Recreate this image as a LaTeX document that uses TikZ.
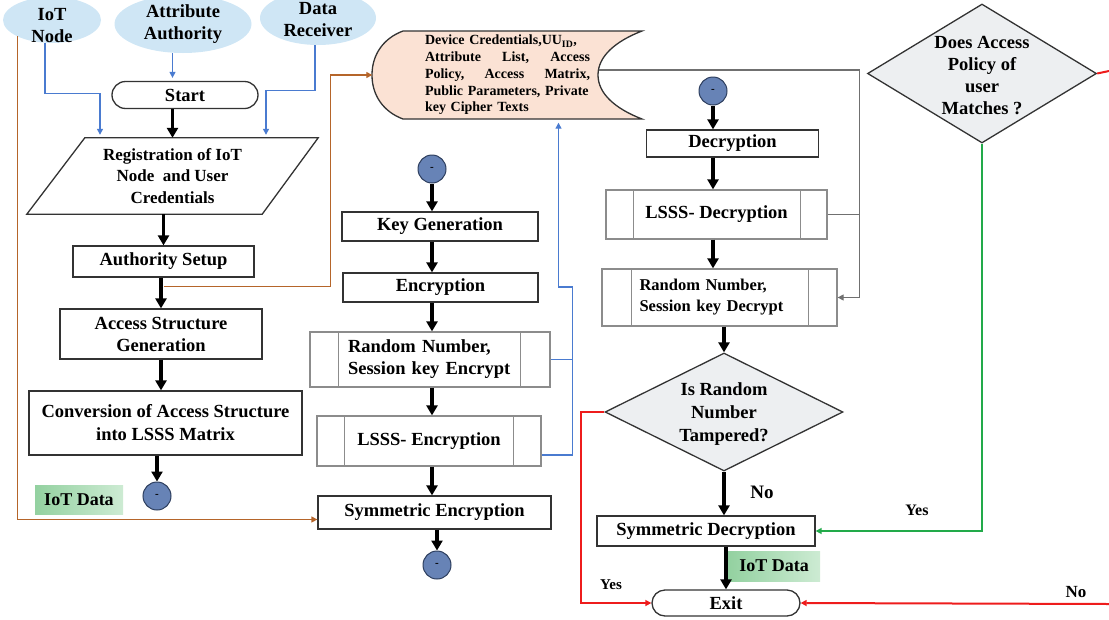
\documentclass[tikz,border=0pt]{standalone}
\usepackage{fontspec}
\setmainfont{Liberation Serif}
\usetikzlibrary{shapes.geometric,shapes.misc,arrows.meta}
\definecolor{skyb}{HTML}{CFE6F5}
\definecolor{dsfill}{HTML}{FBE2D4}
\definecolor{diaf}{HTML}{EDEFF1}
\definecolor{discc}{HTML}{6783B6}
\definecolor{discd}{HTML}{2D3E5E}
\definecolor{bluec}{HTML}{4A7BD0}
\definecolor{brownc}{HTML}{B5652A}
\definecolor{redc}{HTML}{EE1C1C}
\definecolor{greenc}{HTML}{22AA4A}
\definecolor{grayc}{HTML}{707070}
\definecolor{edgec}{HTML}{333333}
\definecolor{pedge}{HTML}{8C8C8C}
\definecolor{gl}{HTML}{93D1A0}
\definecolor{gr}{HTML}{CDEBD3}
\begin{document}
\begin{tikzpicture}[x=1pt,y=-1pt,
  fs/.style={font=\fontsize{18.5}{22}\selectfont\bfseries},
  box/.style={rectangle, draw=edgec, line width=1.3pt, fill=white, inner sep=0pt, align=center, fs},
  pbox/.style={rectangle, draw=pedge, line width=1.3pt, fill=white, inner sep=0pt, fs},
  pline/.style={draw=pedge, line width=1.3pt},
  term/.style={rounded rectangle, draw=edgec, line width=1.3pt, fill=white, inner sep=0pt, fs},
  ell/.style={ellipse, fill=skyb, inner sep=0pt},
  lbl/.style={align=center, font=\fontsize{18.5}{22}\selectfont\bfseries},
  disc/.style={circle, fill=discc, draw=discd, line width=1pt, minimum size=28pt, inner sep=0pt, font=\fontsize{11}{11}\selectfont\bfseries},
  dia/.style={diamond, draw=edgec, line width=1.3pt, fill=diaf, inner sep=0pt},
  iotlbl/.style={rectangle, left color=gl, right color=gr, inner sep=0pt, font=\fontsize{18}{20}\selectfont\bfseries},
  arr/.style={line width=3.2pt, -{Triangle[length=10pt,width=11pt]}},
  tipa/.style={-{Triangle[length=6pt,width=6pt]}},
  blueln/.style={draw=bluec, line width=1.3pt},
  brownln/.style={draw=brownc, line width=1.3pt},
  grayln/.style={draw=grayc, line width=1.3pt},
  redln/.style={draw=redc, line width=2pt},
  greenln/.style={draw=greenc, line width=2pt},
  boxline/.style={draw=edgec, line width=1.3pt}
]
\useasboundingbox (0,0) rectangle (1109,619);

% data store shape
\draw[draw=edgec, line width=1.3pt, fill=dsfill] (403,31) -- (642,31)
  .. controls (616,41) and (598,56) .. (598,75)
  .. controls (598,94) and (616,109) .. (642,119) -- (403,119)
  .. controls (384,112) and (372,96) .. (372,75)
  .. controls (372,54) and (384,38) .. (403,31) -- cycle;
\node[inner sep=0pt, minimum width=270pt, minimum height=87pt, text width=165pt, align=left,
  font=\fontsize{14}{16.7}\selectfont\bfseries] (ds) at (507.5,75)
  {Device Credentials,UU\textsubscript{ID},\\
   \makebox[165pt][s]{Attribute\hfill List,\hfill Access}\\
   \makebox[165pt][s]{Policy,\hfill Access\hfill Matrix,}\\
   \makebox[165pt][s]{Public Parameters, Private}\\
   key Cipher Texts};

% top ellipses
\node[ell, minimum width=98pt, minimum height=46pt, label={[lbl,yshift=-6pt]center:IoT\\Node}] (iot) at (52,20) {};
\node[ell, minimum width=137pt, minimum height=58pt, label={[lbl]center:Attribute\\Authority}] (aa) at (183,24) {};
\node[ell, minimum width=116pt, minimum height=54pt, label={[lbl,yshift=-2pt]center:Data\\Receiver}] (dr) at (318,18) {};

% left column
\node[term, minimum width=146pt, minimum height=27pt] (start) at (185,95) {Start};
\node[inner sep=0pt, minimum width=291pt, minimum height=76pt, align=center,
  font=\fontsize{17}{21.5}\selectfont\bfseries] (reg) at (172.5,176) {Registration of IoT\\Node\ \ and User\\Credentials};
\draw[boxline] ([xshift=58pt]reg.north west) -- (reg.north east) -- ([xshift=-56pt]reg.south east) -- (reg.south west) -- cycle;
\node[box, minimum width=181pt, minimum height=31pt] (as) at (163.5,261.5) {Authority Setup};
\node[box, minimum width=202pt, minimum height=50pt] (asg) at (161,334) {Access Structure\\Generation};
\node[box, minimum width=273pt, minimum height=64pt, font=\fontsize{18.5}{23}\selectfont\bfseries] (conv) at (165.5,423) {Conversion of Access Structure\\into LSSS Matrix};
\node[disc] (c1) at (157,496) {-};
\node[iotlbl, minimum width=88pt, minimum height=29pt] (d1) at (79,499.5) {IoT Data};

% middle column
\node[disc] (c2) at (432,169) {-};
\node[box, minimum width=196pt, minimum height=29pt] (kg) at (440,226.5) {Key Generation};
\node[box, minimum width=195pt, minimum height=29pt] (enc) at (440.5,287.5) {Encryption};
\node[pbox, minimum width=240pt, minimum height=55pt, text width=164pt, align=left] (rne) at (430,359.5) {Random Number,\\Session key Encrypt};
\draw[pline] ([xshift=29pt]rne.north west) -- ([xshift=29pt]rne.south west);
\draw[pline] ([xshift=-30pt]rne.north east) -- ([xshift=-30pt]rne.south east);
\node[pbox, minimum width=224pt, minimum height=50pt] (lse) at (429,441) {LSSS- Encryption};
\draw[pline] ([xshift=28pt]lse.north west) -- ([xshift=28pt]lse.south west);
\draw[pline] ([xshift=-28pt]lse.north east) -- ([xshift=-28pt]lse.south east);
\node[box, minimum width=233pt, minimum height=33pt] (syme) at (434.5,512.5) {Symmetric Encryption};
\node[disc] (c3) at (437,565) {-};

% right column
\node[disc] (c4) at (713,91) {-};
\node[box, minimum width=172pt, minimum height=27pt] (dec) at (732.5,143.5) {Decryption};
\node[pbox, minimum width=221pt, minimum height=49pt] (lsd) at (716.5,214.5) {LSSS- Decryption};
\draw[pline] ([xshift=28pt]lsd.north west) -- ([xshift=28pt]lsd.south west);
\draw[pline] ([xshift=-27pt]lsd.north east) -- ([xshift=-27pt]lsd.south east);
\node[pbox, minimum width=235pt, minimum height=57pt, text width=160pt, align=left,
  font=\fontsize{16.5}{21}\selectfont\bfseries] (rnd) at (719.5,297.5) {Random Number,\\Session key Decrypt};
\draw[pline] ([xshift=30pt]rnd.north west) -- ([xshift=30pt]rnd.south west);
\draw[pline] ([xshift=-29pt]rnd.north east) -- ([xshift=-29pt]rnd.south east);
\node[dia, minimum width=238pt, minimum height=118pt,
  label={[lbl,yshift=-2pt,font=\fontsize{18.5}{23}\selectfont\bfseries]center:Is Random\\Number\\Tampered?}] (tamp) at (724,412) {};
\node[box, minimum width=218pt, minimum height=30pt] (symd) at (706,531) {Symmetric Decryption};
\node[iotlbl, minimum width=92pt, minimum height=30pt] (d2) at (774,566) {IoT Data};
\node[term, minimum width=148pt, minimum height=26pt] (exit) at (726,603) {Exit};
\node[dia, minimum width=229pt, minimum height=139pt,
  label={[lbl,yshift=-2pt]center:Does Access\\Policy of\\user\\Matches ?}] (pol) at (982,73.5) {};
\coordinate (r1) at (1109,71);
\coordinate (r2) at (1109,604);

% edge labels
\node[font=\fontsize{19}{20}\selectfont\bfseries] (ln1) at (762,492) {No};
\node[font=\fontsize{16}{18}\selectfont\bfseries] (ly1) at (917,510) {Yes};
\node[font=\fontsize{15}{17}\selectfont\bfseries] (ly2) at (611,585) {Yes};
\node[font=\fontsize{17}{18}\selectfont\bfseries] (ln2) at (1076,592) {No};

% black flow arrows
\draw[arr] (start.south -| reg.north) -- (reg.north);
\draw[arr] (reg.south -| as.north) -- (as.north);
\draw[arr] (as.south -| asg.north) -- (asg.north);
\draw[arr] (asg.south) -- (asg.south |- conv.north);
\draw[arr] (conv.south -| c1.north) -- (c1.north);
\draw[arr] (c2.south) -- (c2.south |- kg.north);
\draw[arr] (kg.south -| c2.south) -- (enc.north -| c2.south);
\draw[arr] (enc.south -| c2.south) -- (rne.north -| c2.south);
\draw[arr] (rne.south -| c2.south) -- (lse.north -| c2.south);
\draw[arr] (lse.south -| c2.south) -- (syme.north -| c2.south);
\draw[arr] (syme.south -| c3.north) -- (c3.north);
\draw[arr] (c4.south) -- (c4.south |- dec.north);
\draw[arr] (dec.south -| c4.south) -- (lsd.north -| c4.south);
\draw[arr] (lsd.south -| c4.south) -- (rnd.north -| c4.south);
\draw[arr] (rnd.south -| tamp.north) -- (tamp.north);
\draw[arr] (tamp.south) -- (tamp.south |- symd.north);
\draw[arr] (symd.south -| exit.north) -- (exit.north);

% blue connectors
\draw[blueln, tipa] ([xshift=-7pt]iot.south) -- ++(0,50) -| ([xshift=-72.5pt,yshift=3pt]reg.north);
\draw[blueln, tipa] (aa.south -| reg.north) -- ([yshift=3pt]start.north -| reg.north);
\draw[blueln, tipa] ([xshift=-3pt]dr.south) -- ++(0,45) -| ([xshift=93.5pt,yshift=3pt]reg.north);
\draw[blueln, tipa] ([yshift=-14pt]lse.east) -- ++(31,0) -- ++(0,-168) -| ([xshift=51pt,yshift=-4pt]ds.south);
\draw[blueln] (rne.east) -- ++(22,0);

% brown connectors
\draw[brownln, tipa] ([yshift=-8.5pt]as.south) -| ([xshift=-42pt]ds.west) -- (ds.west);
\draw[brownln, tipa] (iot.south west) |- ([yshift=-7pt]syme.west);

% gray connectors
\draw[grayln, tipa] ([xshift=-44pt,yshift=5pt]ds.east) -| ([xshift=22pt]rnd.east) -- (rnd.east);
\draw[grayln] (lsd.east) -- ++(32,0);

% red and green connectors
\draw[redln, tipa] (tamp.west) -- ++(-23,0) |- (exit.west);
\draw[redln] (pol.east) -- (r1);
\draw[redln, tipa] (r2) -- (exit.east);
\draw[greenln, tipa] (pol.south) |- (symd.east);
\end{tikzpicture}
\end{document}
